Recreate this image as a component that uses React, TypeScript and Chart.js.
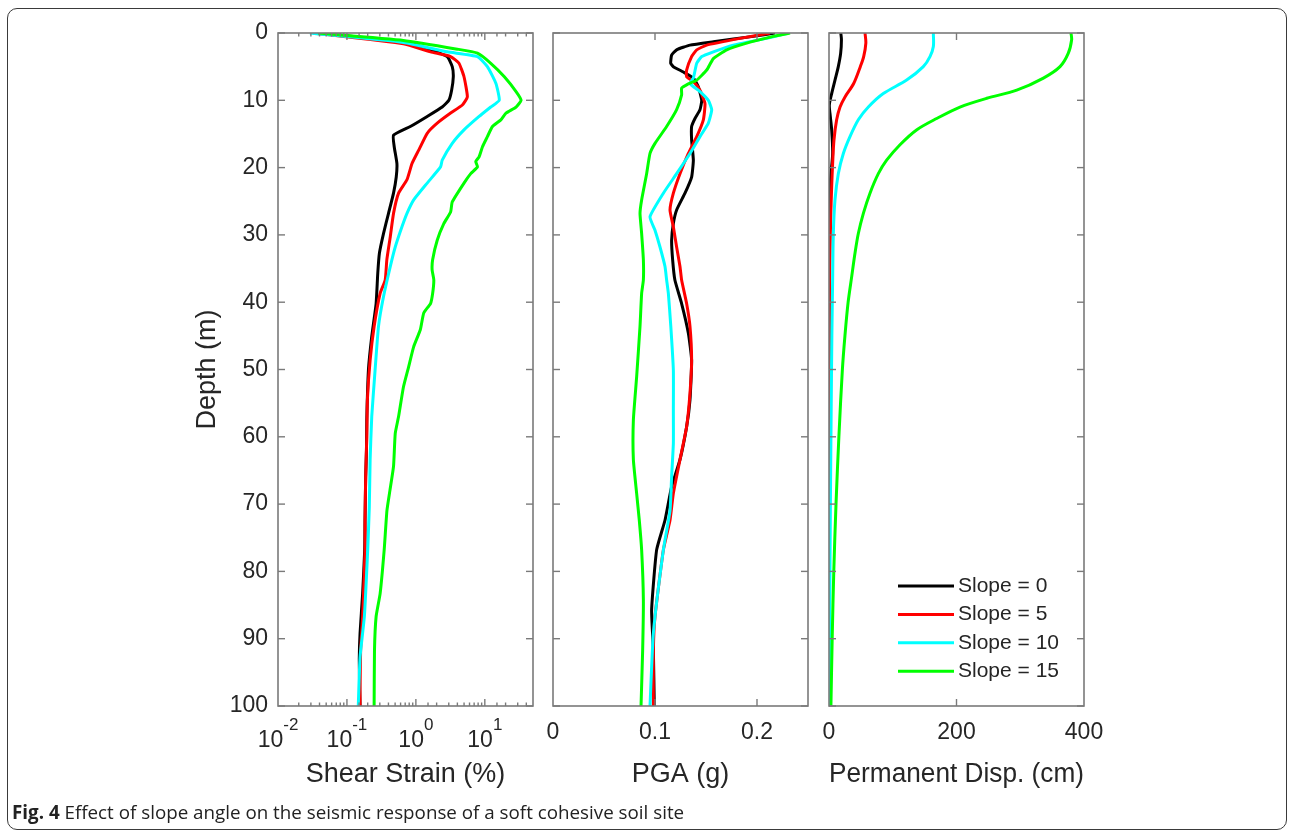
import React, { useEffect, useRef } from 'react';
import { Chart, registerables } from 'chart.js';

Chart.register(...registerables);

const FONT = "'Liberation Sans', Arial, Helvetica, sans-serif";
const TEXT = '#262626';
const AXIS = '#7a7a7a';

// ---------- series meta ----------
const seriesLabels = ['Slope = 0', 'Slope = 5', 'Slope = 10', 'Slope = 15'];
const seriesColors = ['#000000', '#ff0000', '#00ffff', '#00ff00'];

// ---------- tick definitions ----------
const depthTicks = [0, 10, 20, 30, 40, 50, 60, 70, 80, 90, 100];
const strainTickValues = [0.01, 0.1, 1, 10];
const strainTickBase = '10';
const strainTickExponents = ['-2', '-1', '0', '1'];
const pgaTickValues = [0, 0.1, 0.2];
const pgaTickLabels = ['0', '0.1', '0.2'];
const dispTickValues = [0, 200, 400];
const dispTickLabels = ['0', '200', '400'];

// ---------- Shear strain (%) vs depth (m) ----------
const strainDepth0 = [0, 1.3, 2.5, 3.5, 5.0, 6.5, 8.5, 10.0, 11.0, 12.4, 13.9, 15.2, 16.9, 19.4, 21.4, 23.8, 26.8, 29.8, 32.7, 35.7, 40.2, 45.1, 50.1, 57.5, 62.0, 66.0, 72.4, 76.8, 83.3, 89.2, 93.0, 97.6, 100];
const strain0 = [0.036, 0.66, 1.63, 2.85, 3.37, 3.49, 3.30, 3.01, 2.41, 1.46, 0.83, 0.474, 0.485, 0.531, 0.519, 0.474, 0.401, 0.339, 0.296, 0.280, 0.265, 0.229, 0.205, 0.194, 0.192, 0.187, 0.183, 0.181, 0.169, 0.155, 0.151, 0.153, 0.155];

const strainDepth1 = [0, 1.6, 2.8, 3.5, 4.5, 6.5, 9.5, 10.7, 11.9, 13.4, 14.9, 17.4, 19.4, 21.8, 23.8, 26.8, 30.3, 33.7, 36.7, 38.7, 43.6, 48.6, 54.5, 60.0, 65.9, 72.4, 76.8, 86.7, 91.7, 97.6, 100];
const strain1 = [0.032, 0.66, 1.63, 3.19, 4.22, 4.99, 5.58, 4.72, 3.19, 2.04, 1.46, 1.10, 0.879, 0.743, 0.561, 0.474, 0.425, 0.379, 0.359, 0.303, 0.248, 0.217, 0.198, 0.194, 0.187, 0.183, 0.183, 0.169, 0.158, 0.155, 0.155];

const strainDepth2 = [0, 1.4, 2.8, 3.5, 5.0, 7.5, 10.0, 11.0, 12.4, 14.4, 16.4, 18.9, 19.9, 22.3, 24.8, 26.8, 28.8, 31.8, 34.5, 39.2, 43.6, 50.1, 57.0, 63.4, 70.5, 76.8, 86.7, 92.7, 100];
const strain2 = [0.029, 0.66, 2.85, 7.82, 10.9, 14.5, 16.2, 12.2, 8.26, 4.99, 3.37, 2.41, 2.28, 1.46, 0.93, 0.743, 0.628, 0.502, 0.43, 0.339, 0.287, 0.256, 0.229, 0.217, 0.211, 0.200, 0.179, 0.155, 0.146];

const strainDepth3 = [0, 1.1, 2.4, 3.0, 4.5, 6.5, 8.7, 10.0, 11.0, 11.9, 12.9, 13.9, 15.4, 16.9, 18.4, 19.1, 19.9, 20.9, 22.3, 25.1, 26.6, 28.3, 30.8, 33.7, 35.2, 36.7, 38.7, 40.2, 41.6, 44.1, 46.6, 49.6, 52.6, 57.0, 59.5, 64.4, 68.0, 71.0, 76.8, 83.3, 86.7, 91.7, 100];
const strain3 = [0.038, 0.66, 3.99, 7.82, 12.2, 19.2, 28.4, 33.6, 28.4, 20.3, 17.1, 12.9, 10.9, 9.25, 8.26, 7.39, 7.82, 6.25, 4.99, 3.37, 3.19, 2.55, 2.04, 1.75, 1.72, 1.82, 1.75, 1.63, 1.30, 1.16, 0.93, 0.785, 0.66, 0.561, 0.502, 0.474, 0.42, 0.38, 0.347, 0.303, 0.265, 0.251, 0.248];

// ---------- PGA (g) vs depth (m) ----------
const pgaDepth0 = [0, 0.5, 1.3, 1.8, 2.5, 3.3, 4.5, 5.0, 5.8, 6.7, 8.0, 10.0, 11.4, 12.7, 13.9, 15.9, 18.9, 21.4, 23.8, 26.3, 28.3, 30.8, 33.7, 36.7, 40.2, 44.6, 48.6, 54.5, 58.5, 63.4, 67.4, 72.4, 76.8, 85.7, 91.7, 100];
const pga0 = [0.2176, 0.1964, 0.1572, 0.1343, 0.1212, 0.1163, 0.1154, 0.1180, 0.1278, 0.1376, 0.1425, 0.1458, 0.1441, 0.1392, 0.1359, 0.1359, 0.1376, 0.1359, 0.1294, 0.1212, 0.1180, 0.1163, 0.1173, 0.1195, 0.1261, 0.1327, 0.1359, 0.1343, 0.1310, 0.1245, 0.1163, 0.1098, 0.1016, 0.0967, 0.0984, 0.0993];

const pgaDepth1 = [0, 0.8, 1.8, 2.5, 3.5, 5.5, 6.5, 7.2, 8.5, 10.5, 12.9, 15.4, 17.9, 20.9, 23.8, 26.3, 28.8, 31.8, 34.7, 36.7, 40.2, 43.6, 48.6, 53.5, 58.5, 63.4, 68.4, 72.4, 76.8, 86.7, 91.7, 100];
const pga1 = [0.2127, 0.1833, 0.1507, 0.1409, 0.1359, 0.1310, 0.1310, 0.1376, 0.1441, 0.1490, 0.1474, 0.1409, 0.1327, 0.1245, 0.1180, 0.1147, 0.1180, 0.1212, 0.1245, 0.1261, 0.1310, 0.1343, 0.1359, 0.1343, 0.1310, 0.1245, 0.1180, 0.1147, 0.1082, 0.1000, 0.0984, 0.0984];

const pgaDepth2 = [0, 0.8, 1.8, 2.8, 3.5, 4.5, 6.7, 7.5, 8.7, 10.0, 11.4, 13.4, 15.4, 17.9, 20.9, 23.8, 27.3, 29.3, 31.8, 34.7, 36.7, 38.7, 43.6, 50.1, 56.0, 61.0, 65.9, 71.0, 76.8, 89.2, 100];
const pga2 = [0.2307, 0.2095, 0.1768, 0.1572, 0.1458, 0.1409, 0.1376, 0.1343, 0.1441, 0.1523, 0.1556, 0.1523, 0.1441, 0.1343, 0.1212, 0.1082, 0.0951, 0.1000, 0.1049, 0.1098, 0.1114, 0.1131, 0.1155, 0.1180, 0.1180, 0.1180, 0.1163, 0.1147, 0.1082, 0.0984, 0.0951];

const pgaDepth3 = [0, 0.5, 1.5, 2.5, 3.8, 5.5, 7.0, 7.7, 8.2, 9.2, 11.4, 13.9, 16.4, 17.9, 20.9, 24.8, 26.8, 29.8, 33.7, 36.7, 38.7, 43.6, 51.1, 57.5, 63.4, 68.4, 72.4, 76.8, 84.2, 91.7, 100];
const pga3 = [0.2324, 0.2160, 0.1899, 0.1703, 0.1572, 0.1507, 0.1409, 0.1310, 0.1261, 0.1261, 0.1212, 0.1114, 0.1000, 0.0951, 0.0918, 0.0869, 0.0853, 0.0869, 0.0886, 0.0886, 0.0869, 0.0853, 0.0820, 0.0788, 0.0788, 0.0820, 0.0846, 0.0869, 0.0886, 0.0879, 0.0863];

// ---------- Permanent displacement (cm) vs depth (m) ----------
const dispDepth0 = [0, 1.0, 3.0, 5.0, 7.0, 9.0, 10.7, 12.0, 14.4, 17.9, 21.4, 24.8, 30, 40, 60, 80, 100];
const disp0 = [18.5, 19.5, 18.3, 14.6, 9.4, 4.2, 0.5, 1.6, 4.2, 5.7, 2.6, 0.8, 0.8, 0.6, 0.5, 0.4, 0.3];

const dispDepth1 = [0, 1.5, 3.5, 5.0, 7.5, 9.5, 11.0, 12.9, 15.9, 19.4, 22.8, 27.8, 32.7, 36.7, 45, 60, 80, 100];
const disp1 = [56.5, 57.8, 54.4, 49.1, 38.7, 25.1, 17.3, 12.0, 7.8, 5.7, 4.2, 2.6, 1.6, 0.8, 0.5, 0.4, 0.3, 0.3];

const dispDepth2 = [0, 2.0, 3.5, 5.0, 7.0, 9.0, 11.0, 12.9, 15.4, 17.9, 20.9, 24.8, 29.8, 36.7, 45, 55, 70, 85, 100];
const disp2 = [163.7, 163.7, 158.4, 147.9, 121.8, 85.2, 61.7, 46.0, 32.9, 22.5, 14.6, 9.4, 6.8, 5.7, 4.5, 3.5, 2.2, 1.2, 0.6];

const dispDepth3 = [0, 1.0, 3.0, 5.0, 6.7, 8.5, 9.7, 11.0, 12.7, 14.4, 16.6, 18.9, 20.9, 23.8, 26.8, 29.8, 32.7, 36.2, 40, 45, 50, 60, 70, 80, 90, 100];
const disp3 = [379.6, 380.6, 375.4, 362.4, 336.3, 294.5, 247.5, 205.4, 168.9, 137.3, 111.4, 90.4, 77.4, 64.3, 53.9, 46.0, 40.8, 35.6, 30, 25, 21, 15.5, 11, 7.5, 5, 3];

// ---------- helpers ----------
function makeDatasets(depths: number[][], values: number[][], tension: number) {
  return seriesLabels.map((label, i) => ({
    label,
    data: depths[i].map((d, j) => ({ x: values[i][j], y: d })),
    borderColor: seriesColors[i],
    backgroundColor: seriesColors[i],
    borderWidth: 3,
    pointRadius: 0,
    pointHoverRadius: 0,
    showLine: true,
    fill: false,
    tension,
    order: seriesLabels.length - i,
  }));
}

function labelFor(values: number[], labels: string[]) {
  return (v: any) => {
    const n = Number(v);
    const idx = values.findIndex((t) => Math.abs(t - n) <= Math.max(1e-9, Math.abs(t) * 1e-6));
    return idx >= 0 ? labels[idx] : '';
  };
}

function isPow10(v: number) {
  const l = Math.log10(v);
  return Math.abs(l - Math.round(l)) < 1e-6;
}

const boxPlugin = {
  id: 'matlabBox',
  afterDraw(chart: any) {
    const { ctx, chartArea: a, scales } = chart;
    ctx.save();
    ctx.strokeStyle = AXIS;
    ctx.lineWidth = 1.6;
    ctx.strokeRect(a.left, a.top, a.right - a.left, a.bottom - a.top);
    ctx.lineWidth = 1.4;
    const seg = (x1: number, y1: number, x2: number, y2: number) => {
      ctx.beginPath();
      ctx.moveTo(x1, y1);
      ctx.lineTo(x2, y2);
      ctx.stroke();
    };
    const ys = scales.y;
    depthTicks.forEach((d) => {
      const p = ys.getPixelForValue(d);
      seg(a.left, p, a.left + 7, p);
      seg(a.right, p, a.right - 7, p);
    });
    const xs = scales.x;
    const isLog = xs.type === 'logarithmic';
    xs.ticks.forEach((t: any) => {
      const p = xs.getPixelForValue(t.value);
      if (p <= a.left + 1 || p >= a.right - 1) return;
      const len = isLog && !isPow10(t.value) ? 3.5 : 7;
      seg(p, a.top, p, a.top + len);
      seg(p, a.bottom, p, a.bottom - len);
    });
    ctx.restore();
  },
};

// Power-of-ten tick labels with a real superscript exponent
const logLabelPlugin = {
  id: 'logLabels',
  afterDraw(chart: any) {
    const { ctx, chartArea: a, scales } = chart;
    const xs = scales.x;
    ctx.save();
    ctx.fillStyle = TEXT;
    ctx.textBaseline = 'alphabetic';
    ctx.textAlign = 'left';
    strainTickValues.forEach((v, i) => {
      const p = xs.getPixelForValue(v);
      ctx.font = `23px ${FONT}`;
      const wb = ctx.measureText(strainTickBase).width;
      ctx.font = `17px ${FONT}`;
      const we = ctx.measureText(strainTickExponents[i]).width;
      const x0 = p - (wb + we) / 2;
      ctx.font = `23px ${FONT}`;
      ctx.fillText(strainTickBase, x0, a.bottom + 41);
      ctx.font = `17px ${FONT}`;
      ctx.fillText(strainTickExponents[i], x0 + wb, a.bottom + 24);
    });
    ctx.restore();
  },
};

const legendPlugin = {
  id: 'insetLegend',
  afterDraw(chart: any) {
    const { ctx, chartArea: a } = chart;
    ctx.save();
    ctx.font = `21px ${FONT}`;
    ctx.textBaseline = 'middle';
    ctx.textAlign = 'left';
    chart.data.datasets.forEach((ds: any, i: number) => {
      const y = a.bottom - 120 + i * 28.4;
      const x0 = a.left + 69;
      ctx.strokeStyle = ds.borderColor;
      ctx.lineWidth = 3;
      ctx.beginPath();
      ctx.moveTo(x0, y);
      ctx.lineTo(x0 + 56, y);
      ctx.stroke();
      ctx.fillStyle = TEXT;
      ctx.fillText(ds.label, x0 + 60, y);
    });
    ctx.restore();
  },
};

const tickFont = { family: FONT, size: 23 };
const titleFont = { family: FONT, size: 27 };

function yScale(showLabels: boolean) {
  return {
    type: 'linear',
    position: 'left',
    reverse: true,
    min: 0,
    max: 100,
    grid: { display: false, drawTicks: false },
    border: { display: false },
    ticks: {
      display: showLabels,
      stepSize: 10,
      padding: 10,
      font: tickFont,
      color: TEXT,
      autoSkip: false,
    },
    title: {
      display: showLabels,
      text: 'Depth (m)',
      font: titleFont,
      color: TEXT,
      padding: { top: 16, bottom: 0 },
    },
    afterFit: (s: any) => {
      s.width = showLabels ? 103 : 0;
      s.paddingTop = 0;
      s.paddingBottom = 0;
    },
  };
}

function xTitle(text: string) {
  return { display: true, text, font: titleFont, color: TEXT, padding: { top: 0, bottom: 9 } };
}

function fitX(s: any) {
  s.height = 94;
  s.paddingLeft = 0;
  s.paddingRight = 0;
}

function baseOptions(padLeft: number, padRight: number, xScale: any, showY: boolean) {
  return {
    responsive: false,
    animation: false,
    events: [],
    layout: { padding: { left: padLeft, right: padRight, top: 33, bottom: 0 } },
    plugins: { legend: { display: false }, tooltip: { enabled: false } },
    scales: { x: xScale, y: yScale(showY) },
  };
}

function strainConfig(): any {
  return {
    type: 'scatter',
    data: {
      datasets: makeDatasets(
        [strainDepth0, strainDepth1, strainDepth2, strainDepth3],
        [strain0, strain1, strain2, strain3],
        0.15
      ),
    },
    options: baseOptions(0, 17, {
      type: 'logarithmic',
      position: 'bottom',
      min: 0.01,
      max: 50,
      grid: { display: false, drawTicks: false },
      border: { display: false },
      ticks: {
        display: false,
        autoSkip: false,
        maxRotation: 0,
      },
      title: xTitle('Shear Strain (%)'),
      afterFit: fitX,
    }, true),
    plugins: [boxPlugin, logLabelPlugin],
  };
}

function pgaConfig(): any {
  return {
    type: 'scatter',
    data: {
      datasets: makeDatasets(
        [pgaDepth0, pgaDepth1, pgaDepth2, pgaDepth3],
        [pga0, pga1, pga2, pga3],
        0.15
      ),
    },
    options: baseOptions(13, 22, {
      type: 'linear',
      position: 'bottom',
      min: 0,
      max: 0.25,
      grid: { display: false, drawTicks: false },
      border: { display: false },
      ticks: {
        stepSize: 0.1,
        includeBounds: false,
        autoSkip: false,
        maxRotation: 0,
        padding: 13,
        font: tickFont,
        color: TEXT,
        callback: labelFor(pgaTickValues, pgaTickLabels),
      },
      title: xTitle('PGA (g)'),
      afterFit: fitX,
    }, false),
    plugins: [boxPlugin],
  };
}

function dispConfig(): any {
  return {
    type: 'scatter',
    data: {
      datasets: makeDatasets(
        [dispDepth0, dispDepth1, dispDepth2, dispDepth3],
        [disp0, disp1, disp2, disp3],
        0.3
      ),
    },
    options: baseOptions(14, 31, {
      type: 'linear',
      position: 'bottom',
      min: 0,
      max: 400,
      grid: { display: false, drawTicks: false },
      border: { display: false },
      ticks: {
        stepSize: 200,
        autoSkip: false,
        maxRotation: 0,
        padding: 13,
        font: tickFont,
        color: TEXT,
        callback: labelFor(dispTickValues, dispTickLabels),
      },
      title: xTitle('Permanent Disp. (cm)'),
      afterFit: fitX,
    }, false),
    plugins: [boxPlugin, legendPlugin],
  };
}

function Panel({ left, width, build }: { left: number; width: number; build: () => any }) {
  const ref = useRef<HTMLCanvasElement>(null);
  useEffect(() => {
    if (!ref.current) return;
    const chart = new Chart(ref.current, build());
    return () => chart.destroy();
  }, []);
  return (
    <canvas
      ref={ref}
      width={width}
      height={800}
      style={{ position: 'absolute', left, top: 0, width, height: 800 }}
    />
  );
}

export default function App() {
  return (
    <div
      style={{
        position: 'absolute',
        left: 0,
        top: 0,
        width: 1293,
        height: 833,
        background: '#ffffff',
        overflow: 'hidden',
      }}
    >
      <div
        style={{
          position: 'absolute',
          left: 7,
          top: 8,
          width: 1278,
          height: 820,
          border: '1.5px solid #3a3a3a',
          borderRadius: 10,
        }}
      />
      <Panel left={175} width={375} build={strainConfig} />
      <Panel left={540} width={290} build={pgaConfig} />
      <Panel left={815} width={300} build={dispConfig} />
      <div
        style={{
          position: 'absolute',
          left: 12,
          top: 802,
          fontFamily: "'Open Sans', 'Noto Sans', sans-serif",
          fontSize: 18.8,
          lineHeight: '20px',
          color: '#222',
          whiteSpace: 'nowrap',
        }}
      >
        <b>Fig. 4</b> Effect of slope angle on the seismic response of a soft cohesive soil site
      </div>
    </div>
  );
}
